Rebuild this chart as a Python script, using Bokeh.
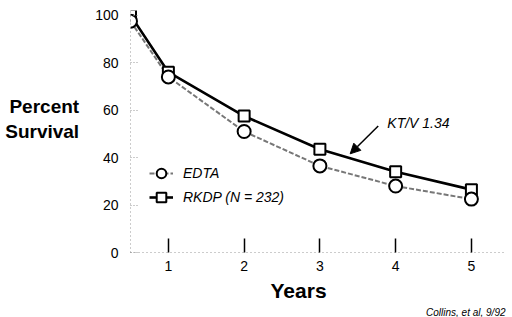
from bokeh.plotting import figure
from bokeh.models import (ColumnDataSource, Label, Arrow, NormalHead, Legend, LegendItem,
                          FixedTicker, Range1d, Title)
from bokeh.embed import file_html
from bokeh.resources import INLINE

# Data
years = [0.5, 1, 2, 3, 4, 5]
rkdp = [100, 76, 57.5, 43.5, 34, 26.5]
edta = [97.5, 74, 51, 36.5, 28, 22.5]
y_ticks = [0, 20, 40, 60, 80, 100]
x_ticks = [1, 2, 3, 4, 5]

FONT = "Liberation Sans"

p = figure(width=512, height=317, output_backend="svg", toolbar_location=None,
           x_range=Range1d(0.5, 5.45), y_range=Range1d(0, 102),
           min_border_left=130, min_border_right=7, min_border_top=10, min_border_bottom=64)
p.outline_line_color = None
p.xgrid.visible = False
p.ygrid.visible = False
p.background_fill_color = "white"

src = ColumnDataSource(dict(x=years, rkdp=rkdp, edta=edta))

l_edta = p.line("x", "edta", source=src, line_color="#777777", line_width=2, line_dash="5 2")
l_rkdp = p.line("x", "rkdp", source=src, line_color="black", line_width=2.6)
m_rkdp = p.scatter("x", "rkdp", source=src, marker="square", size=11, fill_color="white",
                   line_color="black", line_width=2)
m_edta = p.scatter("x", "edta", source=src, marker="circle", size=13, fill_color="white",
                   line_color="black", line_width=2)

# Axes
xa = p.xaxis[0]
xa.ticker = FixedTicker(ticks=x_ticks)
xa.axis_line_color = "#999999"
xa.axis_line_dash = "1 3"
xa.axis_line_width = 1
xa.major_tick_in = 14
xa.major_tick_out = 0
xa.major_tick_line_color = "black"
xa.major_tick_line_width = 1.5
xa.minor_tick_line_color = None
xa.major_label_standoff = 8
xa.major_label_text_font = FONT
xa.major_label_text_font_size = "14px"
xa.major_label_text_color = "black"

ya = p.yaxis[0]
ya.ticker = FixedTicker(ticks=y_ticks)
ya.axis_line_color = "#999999"
ya.axis_line_dash = "1 3"
ya.major_tick_in = 7
ya.major_tick_out = 0
ya.major_tick_line_color = "#999999"
ya.major_tick_line_dash = "1 2"
ya.minor_tick_line_color = None
ya.major_label_standoff = 12
ya.major_label_text_font = FONT
ya.major_label_text_font_size = "14px"
ya.major_label_text_color = "black"
ya.axis_label = "Percent\nSurvival\n "
ya.axis_label_orientation = "horizontal"
ya.axis_label_standoff = 13
ya.axis_label_text_font = FONT
ya.axis_label_text_font_style = "bold"
ya.axis_label_text_font_size = "19px"
ya.axis_label_text_line_height = 1.2
ya.axis_label_text_color = "black"
ya.axis_label_text_align = "right"

# Titles below
p.add_layout(Title(text="Years", align="left", offset=140, standoff=6, text_font=FONT,
                   text_font_style="bold", text_font_size="21px", text_color="black"), "below")
p.add_layout(Title(text="Collins, et al, 9/92", align="right", standoff=0, text_font=FONT,
                   text_font_style="italic", text_font_size="10px", text_color="black"), "below")

# Legend
legend = Legend(items=[LegendItem(label="EDTA", renderers=[l_edta, m_edta]),
                       LegendItem(label="RKDP (N = 232)", renderers=[l_rkdp, m_rkdp])],
                location=(19, 43), background_fill_alpha=0, border_line_color=None,
                label_text_font=FONT, label_text_font_style="italic", label_text_color="black",
                label_text_font_size="14px", glyph_width=24, glyph_height=24,
                label_standoff=10, spacing=0, padding=10)
p.add_layout(legend)

p.add_layout(Label(x=3.89, y=51.3, text="KT/V 1.34", text_align="left", text_font=FONT,
                   text_font_style="italic", text_font_size="14px", text_color="black"))
p.add_layout(Arrow(x_start=3.77, y_start=53.3, x_end=3.40, y_end=41.6, line_width=1.5,
                   line_color="black",
                   end=NormalHead(size=10, fill_color="black", line_color="black")))

open("out.html", "w").write(file_html(p, INLINE))
